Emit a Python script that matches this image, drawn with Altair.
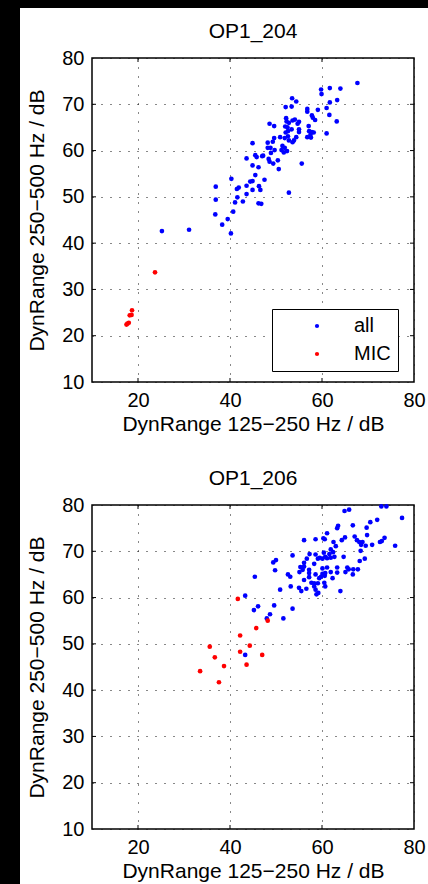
import altair as alt
import pandas as pd

# ---------------- data ----------------
top_all_x = [67.7, 59.8, 61.7, 64.0, 59.9, 63.3, 61.7, 53.5, 54.4, 52.1, 53.4, 56.8, 56.8, 59.1, 61.0,
             57.8, 61.6, 58.0, 58.5, 52.2, 52.3, 52.8, 53.6, 54.1, 55.0, 54.7, 48.6, 49.6, 57.1, 63.2,
             52.0, 52.5, 53.4, 55.0, 55.0, 52.6, 52.1, 57.2, 57.8, 58.2, 61.0, 57.5, 56.8, 57.6, 50.9,
             51.9, 52.6, 54.4, 49.6, 49.3, 48.2, 53.9, 53.6, 52.8, 44.9, 48.2, 48.8, 49.7, 51.4, 51.9,
             51.2, 52.4, 51.7, 48.9, 47.0, 47.2, 45.5, 45.8, 43.6, 48.4, 48.6, 49.4, 50.4, 44.9, 46.2,
             50.6, 55.6, 45.5, 40.3, 47.5, 44.9, 44.4, 46.3, 36.9, 43.6, 41.9, 41.5, 44.9, 46.6, 43.6,
             52.8, 41.6, 42.8, 41.1, 36.9, 46.2, 46.8, 40.7, 36.8, 39.5, 38.3, 25.2, 31.1, 40.2]
top_all_y = [74.6, 73.2, 73.5, 73.4, 72.2, 70.9, 70.4, 71.3, 70.6, 69.4, 69.5, 69.0, 68.4, 68.8, 69.2,
             67.6, 67.7, 67.1, 66.6, 67.0, 66.3, 66.0, 66.5, 66.7, 66.2, 65.8, 65.8, 65.3, 65.3, 66.3,
             65.2, 65.0, 64.6, 64.6, 64.0, 64.2, 63.9, 64.2, 64.0, 63.9, 63.7, 63.4, 62.9, 62.8, 62.9,
             62.7, 63.1, 62.9, 62.7, 61.9, 61.7, 62.2, 61.8, 62.2, 61.6, 60.6, 60.6, 60.1, 61.0, 60.6,
             60.1, 59.9, 59.6, 59.5, 58.8, 58.9, 59.0, 58.6, 58.3, 58.2, 57.6, 57.2, 57.9, 56.8, 56.4,
             56.0, 57.2, 54.7, 53.9, 53.7, 53.4, 53.3, 52.3, 52.2, 52.4, 52.0, 51.7, 51.5, 51.5, 50.6,
             50.9, 49.9, 49.0, 48.8, 49.4, 48.6, 48.5, 46.8, 46.2, 45.2, 44.0, 42.6, 42.9, 42.1]
top_mic_x = [23.7, 18.7, 18.6, 18.2, 18.0, 17.5, 17.7]
top_mic_y = [33.7, 25.5, 24.5, 24.4, 22.8, 22.4, 22.6]

bot_all_x = [72.9, 74.0, 65.9, 64.9, 77.4, 72.0, 70.5, 69.7, 66.7, 63.5, 63.3, 61.1, 69.8, 67.1, 65.0,
             64.3, 60.3, 60.6, 58.6, 56.1, 67.6, 68.1, 68.8, 68.5, 70.9, 69.5, 72.6, 73.0, 73.6, 75.9,
             62.5, 63.0, 61.9, 68.4, 53.6, 57.3, 58.6, 60.4, 62.4, 64.7, 61.6, 60.7, 61.1, 61.9, 62.7,
             60.1, 59.5, 59.1, 56.7, 69.3, 68.2, 50.0, 49.4, 58.3, 56.1, 56.1, 55.3, 55.8, 55.1, 60.1,
             61.1, 63.3, 65.5, 65.8, 66.8, 67.8, 65.1, 66.7, 57.2, 57.2, 58.6, 60.1, 60.7, 61.9, 63.3,
             62.3, 49.8, 52.6, 53.1, 57.2, 56.1, 59.4, 59.8, 60.6, 57.7, 58.3, 59.1, 60.5, 53.2, 55.0,
             56.6, 58.3, 60.7, 55.5, 58.6, 58.8, 59.2, 64.0, 50.9, 45.4, 43.3, 46.1, 45.2, 49.6, 53.6,
             48.7, 48.0, 51.6, 43.3]
bot_all_y = [79.7, 79.7, 79.0, 78.7, 77.2, 76.8, 76.3, 75.1, 75.6, 75.5, 75.0, 73.9, 73.5, 73.2, 73.0,
             72.4, 72.8, 72.6, 72.6, 72.4, 72.4, 72.0, 72.0, 71.4, 71.4, 71.2, 72.0, 72.2, 72.9, 71.2,
             72.0, 71.1, 70.4, 70.1, 69.1, 69.4, 69.3, 69.7, 69.8, 68.8, 69.4, 68.8, 68.5, 68.6, 68.8,
             68.4, 68.6, 68.4, 68.4, 68.4, 67.9, 68.1, 67.6, 67.3, 67.5, 66.7, 66.6, 66.0, 65.5, 66.3,
             66.5, 66.5, 66.5, 66.1, 66.1, 66.1, 65.5, 65.0, 66.0, 65.3, 65.0, 65.1, 65.3, 65.5, 65.4,
             64.2, 65.9, 65.0, 64.5, 64.4, 63.8, 64.2, 64.5, 64.7, 63.2, 63.1, 63.1, 63.2, 62.4, 62.1,
             61.9, 62.4, 62.4, 61.4, 61.7, 60.7, 61.0, 61.4, 61.7, 64.5, 60.4, 58.1, 57.3, 58.3, 57.6,
             56.4, 55.5, 55.5, 47.6]
bot_mic_x = [41.7, 48.2, 45.7, 42.2, 44.3, 35.6, 42.2, 47.0, 36.7, 43.6, 38.7, 33.5, 37.6]
bot_mic_y = [59.7, 55.0, 53.4, 51.8, 49.6, 49.4, 48.3, 47.6, 47.1, 45.5, 45.2, 44.1, 41.7]

series_names = ["all", "MIC"]
series_colors = ["#0000ff", "#ff0000"]
titles = ["OP1_204", "OP1_206"]
x_label = "DynRange 125\u2212250 Hz / dB"
y_label = "DynRange 250\u2212500 Hz / dB"
x_tick_values = [20, 40, 60, 80]
y_tick_values = [10, 20, 30, 40, 50, 60, 70, 80]
x_inner_ticks = [20, 40, 60]
y_inner_ticks = [20, 30, 40, 50, 60, 70]

W, H = 322, 324
FONT = "Liberation Sans"
FS = 20
TFS = 21


def make_panel(title, ax, ay, mx, my, show_legend):
    df = pd.DataFrame({
        "x": ax + mx,
        "y": ay + my,
        "series": [series_names[0]] * len(ax) + [series_names[1]] * len(mx),
    })
    if show_legend:
        legend = alt.Legend(
            title=None, orient="none", legendX=180, legendY=251, direction="vertical",
            strokeColor="black", fillColor="white", padding=7, symbolOffset=28,
            labelOffset=27, rowPadding=8, labelFontSize=FS, labelFont=FONT,
            labelColor="black", symbolSize=18, symbolType="circle",
            labelExpr="datum.label + '  '",
        )
    else:
        legend = None
    pts = alt.Chart(df).mark_circle(size=22, opacity=1).encode(
        x=alt.X("x:Q", scale=alt.Scale(domain=[10, 80], nice=False),
                axis=alt.Axis(values=x_tick_values, title=x_label, grid=True,
                              gridDash=[1, 8], gridColor="#111", gridWidth=1,
                              ticks=False, domain=False, labelFlush=False,
                              labelPadding=8, titlePadding=3)),
        y=alt.Y("y:Q", scale=alt.Scale(domain=[10, 80], nice=False),
                axis=alt.Axis(values=y_tick_values, title=y_label, grid=True,
                              gridDash=[1, 8], gridColor="#111", gridWidth=1,
                              ticks=False, domain=False, labelFlush=False,
                              labelPadding=8, titlePadding=14)),
        color=alt.Color("series:N",
                        scale=alt.Scale(domain=series_names, range=series_colors),
                        legend=legend),
    )
    xt = pd.DataFrame({"x": x_inner_ticks})
    yt = pd.DataFrame({"y": y_inner_ticks})
    xb = alt.Chart(xt).mark_rule(color="black", strokeWidth=1).encode(
        x="x:Q", y=alt.value(H), y2=alt.value(H - 4))
    xtop = alt.Chart(xt).mark_rule(color="black", strokeWidth=1).encode(
        x="x:Q", y=alt.value(0), y2=alt.value(4))
    yl = alt.Chart(yt).mark_rule(color="black", strokeWidth=1).encode(
        y="y:Q", x=alt.value(0), x2=alt.value(4))
    yr = alt.Chart(yt).mark_rule(color="black", strokeWidth=1).encode(
        y="y:Q", x=alt.value(W), x2=alt.value(W - 4))
    return alt.layer(pts, xb, xtop, yl, yr).properties(
        width=W, height=H,
        title=alt.TitleParams(title, fontSize=TFS, font=FONT, fontWeight="normal",
                              color="black", offset=6, anchor="middle", frame="group"),
        view=alt.ViewBackground(stroke="black", strokeWidth=1.5, fill="white"),
    )


top = make_panel(titles[0], top_all_x, top_all_y, top_mic_x, top_mic_y, True)
bottom = make_panel(titles[1], bot_all_x, bot_all_y, bot_mic_x, bot_mic_y, False)

one = pd.DataFrame({"a": [0]})
spacer = alt.Chart(one).mark_rect(opacity=0).encode(
    x=alt.value(0), x2=alt.value(1), y=alt.value(0), y2=alt.value(1)
).properties(width=1, height=1)

panels = alt.vconcat(top, bottom, spacing=32).resolve_legend(color="independent")
content = alt.vconcat(spacer, panels, spacing=11).resolve_legend(color="independent")

left_strip = alt.Chart(one).mark_rect(color="black").encode(
    x=alt.value(0), x2=alt.value(20), y=alt.value(0), y2=alt.value(876)
).properties(width=20, height=876)
top_strip = alt.Chart(one).mark_rect(color="black").encode(
    x=alt.value(0), x2=alt.value(428), y=alt.value(0), y2=alt.value(8)
).properties(width=428, height=8)

row = alt.hconcat(left_strip, content, spacing=6).resolve_legend(color="independent")
chart = alt.vconcat(top_strip, row, spacing=0).resolve_legend(color="independent").configure(
    padding=0, background="white"
).configure_view(strokeWidth=0).configure_axis(
    labelFont=FONT, titleFont=FONT, labelFontSize=FS, titleFontSize=TFS,
    labelColor="black", titleColor="black", titleFontWeight="normal",
)

chart.save("out.html", embed_options={"renderer": "svg", "actions": False})
